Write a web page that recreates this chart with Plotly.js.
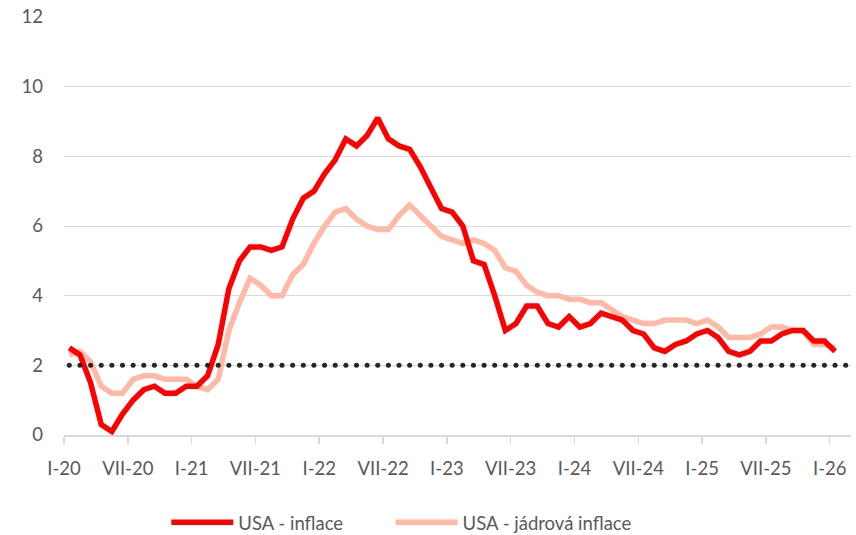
<!DOCTYPE html>
<html>
<head>
<meta charset="utf-8">
<script src="https://cdn.plot.ly/plotly-3.0.1.min.js"></script>
<style>
  html, body { margin: 0; padding: 0; background: #ffffff; }
  #chart { width: 856px; height: 535px; }
</style>
</head>
<body>
<div id="chart"></div>
<script>
// Monthly categories (Jan 2020 – Feb 2026; the last category has no data)
const months = [
  "2020-01","2020-02","2020-03","2020-04","2020-05","2020-06","2020-07","2020-08","2020-09","2020-10","2020-11","2020-12",
  "2021-01","2021-02","2021-03","2021-04","2021-05","2021-06","2021-07","2021-08","2021-09","2021-10","2021-11","2021-12",
  "2022-01","2022-02","2022-03","2022-04","2022-05","2022-06","2022-07","2022-08","2022-09","2022-10","2022-11","2022-12",
  "2023-01","2023-02","2023-03","2023-04","2023-05","2023-06","2023-07","2023-08","2023-09","2023-10","2023-11","2023-12",
  "2024-01","2024-02","2024-03","2024-04","2024-05","2024-06","2024-07","2024-08","2024-09","2024-10","2024-11","2024-12",
  "2025-01","2025-02","2025-03","2025-04","2025-05","2025-06","2025-07","2025-08","2025-09","2025-10","2025-11","2025-12",
  "2026-01","2026-02"
];

// USA - inflace (CPI, % y/y)
const inflation = [
  2.5, 2.3, 1.5, 0.3, 0.1, 0.6, 1.0, 1.3, 1.4, 1.2, 1.2, 1.4,
  1.4, 1.7, 2.6, 4.2, 5.0, 5.4, 5.4, 5.3, 5.4, 6.2, 6.8, 7.0,
  7.5, 7.9, 8.5, 8.3, 8.6, 9.1, 8.5, 8.3, 8.2, 7.7, 7.1, 6.5,
  6.4, 6.0, 5.0, 4.9, 4.0, 3.0, 3.2, 3.7, 3.7, 3.2, 3.1, 3.4,
  3.1, 3.2, 3.5, 3.4, 3.3, 3.0, 2.9, 2.5, 2.4, 2.6, 2.7, 2.9,
  3.0, 2.8, 2.4, 2.3, 2.4, 2.7, 2.7, 2.9, 3.0, 3.0, 2.7, 2.7,
  2.4
];

// USA - jádrová inflace (core CPI, % y/y)
const coreInflation = [
  2.3, 2.4, 2.1, 1.4, 1.2, 1.2, 1.6, 1.7, 1.7, 1.6, 1.6, 1.6,
  1.4, 1.3, 1.6, 3.0, 3.8, 4.5, 4.3, 4.0, 4.0, 4.6, 4.9, 5.5,
  6.0, 6.4, 6.5, 6.2, 6.0, 5.9, 5.9, 6.3, 6.6, 6.3, 6.0, 5.7,
  5.6, 5.5, 5.6, 5.5, 5.3, 4.8, 4.7, 4.3, 4.1, 4.0, 4.0, 3.9,
  3.9, 3.8, 3.8, 3.6, 3.4, 3.3, 3.2, 3.2, 3.3, 3.3, 3.3, 3.2,
  3.3, 3.1, 2.8, 2.8, 2.8, 2.9, 3.1, 3.1, 3.0, 3.0, 2.6, 2.6,
  2.5
];

// Inflation target (2 %) for every category
const target = [
  2,2,2,2,2,2,2,2,2,2,2,2, 2,2,2,2,2,2,2,2,2,2,2,2,
  2,2,2,2,2,2,2,2,2,2,2,2, 2,2,2,2,2,2,2,2,2,2,2,2,
  2,2,2,2,2,2,2,2,2,2,2,2, 2,2,2,2,2,2,2,2,2,2,2,2,
  2,2
];

// Axis tick labels (every 6 months, placed on category boundaries)
const tickLabels = ["I-20","VII-20","I-21","VII-21","I-22","VII-22","I-23","VII-23","I-24","VII-24","I-25","VII-25","I-26"];
const tickMonths = ["2020-01","2020-07","2021-01","2021-07","2022-01","2022-07","2023-01","2023-07","2024-01","2024-07","2025-01","2025-07","2026-01"];

const idx = months.map((m, i) => i);
const tickVals = tickMonths.map(m => months.indexOf(m) - 0.5);

const FONT = "Lato, 'Open Sans', sans-serif";
const TXT = "#595959";
const GRID = "#D9D9D9";

const traces = [
  {
    x: idx.slice(0, coreInflation.length), y: coreInflation,
    type: "scatter", mode: "lines", name: "USA - jádrová inflace",
    line: { color: "#FFB9A4", width: 5.5 }, legend: "legend2",
    hoverinfo: "skip"
  },
  {
    x: idx.slice(0, inflation.length), y: inflation,
    type: "scatter", mode: "lines", name: "USA - inflace",
    line: { color: "#FF0000", width: 5.5 }, legend: "legend",
    hoverinfo: "skip"
  },
  {
    x: idx, y: target,
    type: "scatter", mode: "markers", name: "cíl",
    marker: { color: "#262626", size: 5 }, showlegend: false,
    hoverinfo: "skip"
  }
];

const legendBase = {
  orientation: "h",
  xanchor: "left",
  y: -0.21, yanchor: "middle",
  font: { family: FONT, color: TXT, size: 18.5 },
  itemwidth: 62,
  bgcolor: "rgba(0,0,0,0)"
};

const layout = {
  width: 856, height: 535,
  margin: { l: 64, r: 5, t: 17, b: 100, autoexpand: false },
  paper_bgcolor: "#ffffff", plot_bgcolor: "#ffffff",
  font: { family: FONT, color: TXT, size: 18.5 },
  showlegend: true,
  legend: Object.assign({}, legendBase, { x: 0.13 }),
  legend2: Object.assign({}, legendBase, { x: 0.415 }),
  xaxis: {
    type: "linear",
    range: [-0.5, 73.5],
    tickmode: "array", tickvals: tickVals, ticktext: tickLabels,
    showgrid: false, zeroline: false,
    showline: true, linecolor: GRID, linewidth: 1.5,
    ticks: "outside", ticklen: 7, tickwidth: 1.5, tickcolor: GRID,
    ticklabelstandoff: 9,
    tickfont: { family: FONT, color: TXT, size: 18.5 },
    fixedrange: true
  },
  yaxis: {
    range: [0, 12],
    tickmode: "array", tickvals: [0, 2, 4, 6, 8, 10, 12],
    showgrid: true, gridcolor: GRID, gridwidth: 1,
    zeroline: false, showline: false, ticks: "",
    ticklabelstandoff: 20,
    tickfont: { family: FONT, color: TXT, size: 18.5 },
    fixedrange: true
  }
};

Plotly.newPlot("chart", traces, layout, { staticPlot: true, displayModeBar: false });
</script>
</body>
</html>
